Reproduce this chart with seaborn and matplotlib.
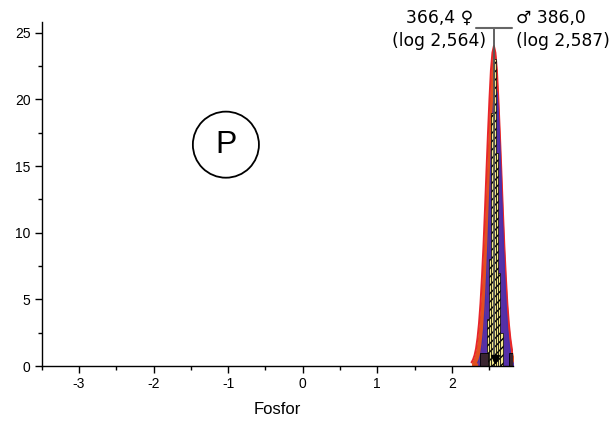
import numpy as np
import pandas as pd
import matplotlib
matplotlib.use("Agg")
import matplotlib.pyplot as plt
from matplotlib.patches import Ellipse
from matplotlib.ticker import MultipleLocator
import seaborn as sns

# ---------------- data ----------------
x_ticks = [-3, -2, -1, 0, 1, 2]
y_ticks = [0, 5, 10, 15, 20, 25]

# fitted distribution curve, females (red)
red_x = [2.264, 2.284, 2.304, 2.324, 2.344, 2.364, 2.384, 2.404, 2.424, 2.444, 2.464,
         2.484, 2.504, 2.524, 2.544, 2.564, 2.584, 2.604, 2.624, 2.644, 2.664, 2.684,
         2.704, 2.724, 2.744, 2.764, 2.784, 2.804, 2.824, 2.844, 2.864]
red_y = [0.27, 0.48, 0.8, 1.3, 2.1, 3.2, 4.7, 6.7, 9.0, 11.7, 14.6, 17.4, 20.0, 22.2,
         23.5, 24.0, 23.5, 22.2, 20.0, 17.4, 14.6, 11.7, 9.0, 6.7, 4.7, 3.2, 2.1, 1.3,
         0.8, 0.48, 0.27]

# fitted distribution curve, males (blue)
blue_x = [2.347, 2.367, 2.387, 2.407, 2.427, 2.447, 2.467, 2.487, 2.507, 2.527, 2.547,
          2.567, 2.587, 2.607, 2.627, 2.647, 2.667, 2.687, 2.707, 2.727, 2.747, 2.767,
          2.787, 2.807, 2.827]
blue_y = [0.23, 0.48, 0.9, 1.7, 2.8, 4.5, 6.8, 9.6, 12.7, 15.9, 18.5, 20.4, 21.0, 20.4,
          18.5, 15.9, 12.7, 9.6, 6.8, 4.5, 2.8, 1.7, 0.9, 0.48, 0.23]

# histogram (hatched yellow)
hist_edges = [2.47, 2.50, 2.53, 2.56, 2.59, 2.62, 2.65, 2.68]
hist_heights = [3.5, 8.0, 19.0, 23.0, 16.0, 7.0, 2.5]

# small dark bars at the base
base_edges = [2.38, 2.48, 2.76, 2.82]
base_heights = [1.0, 0.0, 1.0]

mean_f, mean_m = 2.564, 2.587
top_bar_y = 25.38
top_bar_x = [2.32, 2.80]

label_f = "366,4 ♀\n(log 2,564)"
label_m = "♂ 386,0\n(log 2,587)"
x_label = "Fosfor"
panel_letter = "P"

# ---------------- plotting ----------------
sns.set_theme(style="white")
plt.rcParams['font.family'] = ['Liberation Sans', 'DejaVu Sans']
plt.rcParams['axes.unicode_minus'] = False
plt.rcParams['text.color'] = 'black'
plt.rcParams['xtick.color'] = 'black'
plt.rcParams['ytick.color'] = 'black'
plt.rcParams['axes.labelcolor'] = 'black'

fig = plt.figure(figsize=(6.15, 4.21), dpi=100)
ax = fig.add_axes([41.7/615, 1-366/421, (513-41.7)/615, (366-22)/421])

red_df = pd.DataFrame({"x": red_x, "y": red_y})
blue_df = pd.DataFrame({"x": blue_x, "y": blue_y})

ax.fill_between(red_df.x, red_df.y, color="#e2501f", zorder=1, lw=0)
sns.lineplot(data=red_df, x="x", y="y", color="#e8262a", lw=1.4, ax=ax, zorder=1.5)
ax.fill_between(blue_df.x, blue_df.y, color="#5530a8", zorder=2, lw=0)
sns.lineplot(data=blue_df, x="x", y="y", color="#4a2fa8", lw=1.0, ax=ax, zorder=2.5)

centers = [(a + b) / 2 for a, b in zip(hist_edges[:-1], hist_edges[1:])]
sns.histplot(x=centers, weights=hist_heights, bins=hist_edges, ax=ax,
             color="#f4e98a", alpha=1, edgecolor="black", linewidth=0.5,
             hatch="////", zorder=3)

bcenters = [(a + b) / 2 for a, b in zip(base_edges[:-1], base_edges[1:])]
sns.histplot(x=bcenters, weights=base_heights, bins=base_edges, ax=ax,
             color="#3a2530", alpha=1, edgecolor="black", linewidth=0.6, zorder=3.5)

# mean markers
ax.plot([mean_f, mean_f], [0.4, top_bar_y], color="#555555", lw=1.3, zorder=4)
ax.plot(top_bar_x, [top_bar_y, top_bar_y], color="#666666", lw=1.5, zorder=4,
        clip_on=False)
ax.plot([mean_f + 0.01], [0.55], marker="v", color="black", ms=6, zorder=5)

ax.text(2.46, top_bar_y - 0.15, label_f, ha="right", va="center", fontsize=12.3,
        family="DejaVu Sans", linespacing=1.4, multialignment="center")
ax.text(2.86, top_bar_y - 0.15, label_m, ha="left", va="center", fontsize=12.3,
        family="DejaVu Sans", linespacing=1.4, multialignment="left")

# panel letter in a circle
ax.add_patch(Ellipse((-1.03, 16.6), 66/74.5, 66/13.32, fill=False, ec="black",
                     lw=1.3, zorder=5))
ax.text(-1.03, 16.6, panel_letter, ha="center", va="center", fontsize=23)

ax.set_xlim(-3.5, 2.82)
ax.set_ylim(0, 25.8)
ax.set_xticks(x_ticks)
ax.set_yticks(y_ticks)
ax.xaxis.set_minor_locator(MultipleLocator(0.5))
ax.yaxis.set_minor_locator(MultipleLocator(2.5))
ax.set_xlabel(x_label, fontsize=12, labelpad=8)
ax.set_ylabel("")

for s in ["top", "right"]:
    ax.spines[s].set_visible(False)
for s in ["left", "bottom"]:
    ax.spines[s].set_color("black")
    ax.spines[s].set_linewidth(1.0)
    ax.spines[s].set_zorder(6)

ax.tick_params(axis="both", which="major", direction="out", length=5, width=1,
               color="black", labelcolor="black", labelsize=10, pad=3,
               bottom=True, left=True)
ax.tick_params(axis="both", which="minor", direction="out", length=3, width=1,
               color="black", bottom=True, left=True)

fig.savefig("out.png", dpi=100)
